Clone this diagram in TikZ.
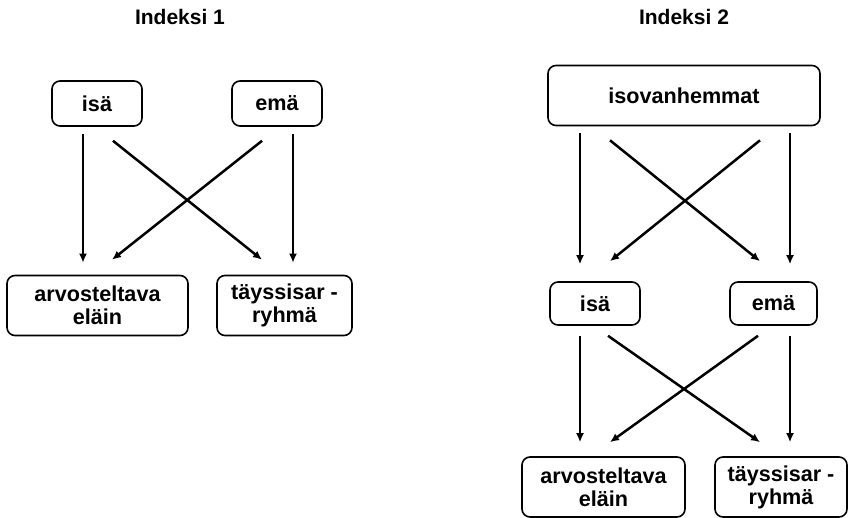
\documentclass[tikz,border=0pt]{standalone}
\usepackage{fontspec}
\setmainfont{Liberation Sans}
\usepackage{tikz}
\usetikzlibrary{arrows.meta}
\tikzset{
  box/.style={draw=black, rounded corners=4pt, line width=0.8pt, align=center, font=\bfseries\fontsize{10.8}{11.5}\selectfont},
  title/.style={font=\bfseries\fontsize{10.5}{12}\selectfont},
  arr/.style={-{Latex[length=4.5pt,width=4pt]}, line width=1.25pt},
}

\begin{document}
\begin{tikzpicture}[x=0.5pt, y=-0.5pt]
  \useasboundingbox (0,0) rectangle (850,518);

  % Indeksi 1
  \node[title] (t1) at (180, 17) {Indeksi 1};
  \node[box, minimum width=45pt,   minimum height=22.5pt] (isa1) at ( 97  , 103.5) {isä};
  \node[box, minimum width=45pt,   minimum height=22.5pt] (ema1) at (277  , 103.5) {emä};
  \node[box, minimum width=90.5pt, minimum height=30pt  ] (arv1) at ( 97.5, 305.5) {arvosteltava\\eläin};
  \node[box, minimum width=67.5pt, minimum height=30pt  ] (tay1) at (284.5, 305.5) {täyssisar -\\ryhmä};

  \draw[arr] ([shift={(-14, 7)}]isa1.south) -- ([shift={(-14.5,-12)}]arv1.north);
  \draw[arr] ([shift={( 16,14)}]isa1.south) -- ([shift={(-22.5,-15)}]tay1.north);
  \draw[arr] ([shift={(-15,14)}]ema1.south) -- ([shift={( 14.5,-15)}]arv1.north);
  \draw[arr] ([shift={( 16, 7)}]ema1.south) -- ([shift={(  8.5,-12)}]tay1.north);

  % Indeksi 2
  \node[title] (t2) at (684, 17) {Indeksi 2};
  \node[box, minimum width=136pt,  minimum height=30pt  ] (iso2) at (684  ,  95.5) {isovanhemmat};
  \node[box, minimum width=45pt,   minimum height=21.5pt] (isa2) at (595  , 303.5) {isä};
  \node[box, minimum width=43.5pt, minimum height=21.5pt] (ema2) at (773.5, 303.5) {emä};
  \node[box, minimum width=81.5pt, minimum height=30pt  ] (arv2) at (603.5, 487  ) {arvosteltava\\eläin};
  \node[box, minimum width=66pt,   minimum height=30pt  ] (tay2) at (781  , 487  ) {täyssisar -\\ryhmä};

  \draw[arr] ([shift={(-104, 7)}]iso2.south) -- ([shift={(-15  ,-17)}]isa2.north);
  \draw[arr] ([shift={( -74,14)}]iso2.south) -- ([shift={(-13.5,-20)}]ema2.north);
  \draw[arr] ([shift={(  76,14)}]iso2.south) -- ([shift={( 15  ,-20)}]isa2.north);
  \draw[arr] ([shift={( 106, 7)}]iso2.south) -- ([shift={( 16.5,-17)}]ema2.north);

  \draw[arr] ([shift={(-15  ,10)}]isa2.south) -- ([shift={(-23.5,-14)}]arv2.north);
  \draw[arr] ([shift={( 13  ,10)}]isa2.south) -- ([shift={(-21  ,-14)}]tay2.north);
  \draw[arr] ([shift={(-15.5,10)}]ema2.south) -- ([shift={(  6.5,-14)}]arv2.north);
  \draw[arr] ([shift={( 16.5,10)}]ema2.south) -- ([shift={(  9  ,-14)}]tay2.north);
\end{tikzpicture}
\end{document}
